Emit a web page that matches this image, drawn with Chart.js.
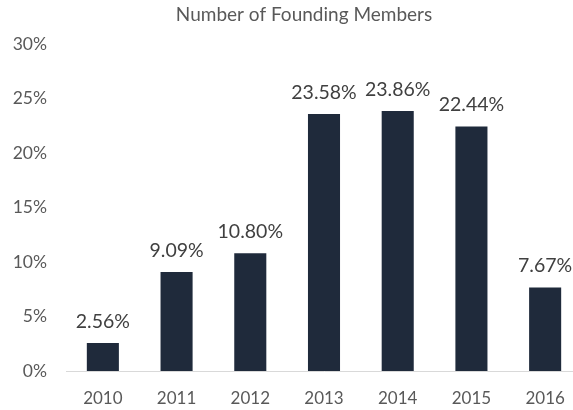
<!DOCTYPE html>
<html>
<head>
<meta charset="utf-8">
<script src="https://cdn.jsdelivr.net/npm/chart.js@4/dist/chart.umd.min.js"></script>
<style>
  html, body { margin: 0; padding: 0; background: #fff; overflow: hidden; }
  #wrap { width: 573px; height: 410px; overflow: hidden; }
</style>
</head>
<body>
<!-- canvas is a little wider than the view: the original is cropped on the right -->
<div id="wrap"><canvas id="chartCanvas" width="582" height="410"></canvas></div>
<script>
// --- Data ---
const chartTitle = 'Number of Founding Members';
const years = ['2010', '2011', '2012', '2013', '2014', '2015', '2016'];
const shares = [2.56, 9.09, 10.80, 23.58, 23.86, 22.44, 7.67];
const yTicks = [0, 5, 10, 15, 20, 25, 30];

const fontFamily = 'Lato, "Open Sans", sans-serif';

// Value labels above bars + title
const valueLabels = {
    id: 'valueLabels',
    afterDatasetsDraw(chart) {
        const ctx = chart.ctx;
        const meta = chart.getDatasetMeta(0);
        ctx.save();
        ctx.font = '19.5px ' + fontFamily;
        ctx.fillStyle = '#404040';
        ctx.textAlign = 'center';
        ctx.textBaseline = 'alphabetic';
        meta.data.forEach((bar, i) => {
            ctx.fillText(shares[i].toFixed(2) + '%', bar.x, bar.y - 15);
        });

        ctx.font = '19px ' + fontFamily;
        ctx.fillStyle = '#595959';
        ctx.fillText(chartTitle, 304, 21);
        ctx.restore();
    }
};

const canvas = document.getElementById('chartCanvas');

new Chart(canvas, {
    type: 'bar',
    data: {
        labels: years,
        datasets: [{
            data: shares,
            backgroundColor: '#1f2a3b',
            categoryPercentage: 0.435,
            barPercentage: 1
        }]
    },
    options: {
        responsive: false,
        animation: false,
        layout: { padding: { left: 10, right: 0, top: 44, bottom: 0 } },
        plugins: {
            legend: { display: false },
            tooltip: { enabled: false },
            title: { display: false }
        },
        scales: {
            x: {
                afterFit: axis => { axis.height = 39; },
                grid: { display: false, drawTicks: false },
                border: { display: true, color: '#d9d9d9', width: 1 },
                ticks: {
                    color: '#595959',
                    font: { family: fontFamily, size: 17 },
                    padding: 17
                }
            },
            y: {
                min: 0,
                max: 30,
                afterBuildTicks: axis => { axis.ticks = yTicks.map(v => ({ value: v })); },
                afterFit: axis => { axis.width = 56; },
                grid: { display: false, drawTicks: false },
                border: { display: false },
                ticks: {
                    color: '#595959',
                    font: { family: fontFamily, size: 17.5 },
                    padding: 19,
                    callback: v => v + '%'
                }
            }
        }
    },
    plugins: [valueLabels]
});
</script>
</body>
</html>
